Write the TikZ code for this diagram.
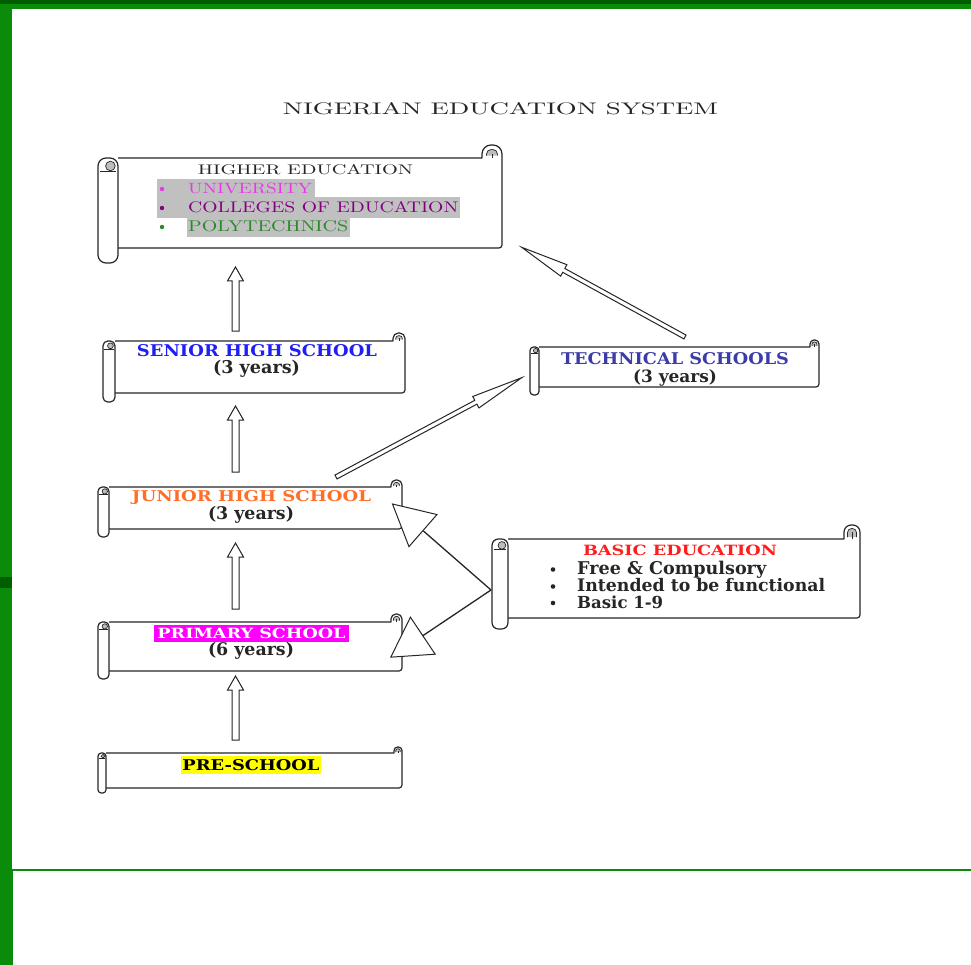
\documentclass[tikz,border=0pt]{standalone}
\usepackage{fontspec}
\usepackage{graphicx}
\usetikzlibrary{calc,arrows.meta,fit}
\newfontfamily\bfont{DejaVu Serif}
\newcommand\bt{\bfont\bfseries}
\newcommand\tw{\addfontfeatures{FakeBold=1.2}}
\definecolor{ink}{HTML}{262626}
\definecolor{hlgray}{HTML}{C0C0C0}
\definecolor{unic}{HTML}{EE33EE}
\definecolor{collc}{HTML}{800080}
\definecolor{polyc}{HTML}{2A8A2A}
\definecolor{sblue}{HTML}{1E1EF5}
\definecolor{tblue}{HTML}{3C3CA8}
\definecolor{jorange}{HTML}{FF6E28}
\definecolor{pmag}{HTML}{FF00FF}
\definecolor{bred}{HTML}{FF1E1E}
\definecolor{hlyellow}{HTML}{FFFF00}
\definecolor{fgreen}{HTML}{0A8C0A}
\definecolor{fdark}{HTML}{005E00}
\definecolor{curlgray}{HTML}{BDBDBD}
\tikzset{
  scr/.style={draw=ink, line width=1.2pt, line join=round},
  thinscr/.style={draw=ink, line width=0.7pt},
  arr/.style={draw=ink, fill=white, line width=1pt, line join=miter},
  txt/.style={inner sep=0pt, anchor=center},
  conn/.style={draw=ink, line width=1.3pt},
}
% #1 name, #2 x1, #3 y1, #4 x2, #5 y2, #6 roll width, #7 roll bottom, #8 curl top
\newcommand\scroll[8]{%
  \node[fit={(#2,#3)(#4,#5)}, inner sep=0pt] (#1) {};
  \draw[scr] (#2+#6,#3) -- (#4-#6,#3) [rounded corners=#6*0.45pt] -- (#4-#6,#8) -- (#4,#8) [rounded corners=3pt] -- (#4,#5) -- (#2+#6,#5);
  \filldraw[thinscr, fill=curlgray, rounded corners=#6*0.25pt] (#4-#6*0.78,#3-#6*0.12) -- (#4-#6*0.78,#8+#6*0.22) -- (#4-#6*0.22,#8+#6*0.22) -- (#4-#6*0.22,#3-#6*0.12);
  \draw[thinscr] (#4-#6*0.5,#8+#6*0.45) -- (#4-#6*0.5,#3);
  \draw[scr, fill=white, rounded corners=#6*0.4pt] (#2,#3) rectangle (#2+#6,#7);
  \filldraw[thinscr, fill=curlgray] (#2+#6*0.62,#3+#6*0.4) circle[radius=#6*0.24pt];
  \draw[thinscr] (#2+#6*0.1,#3+#6*0.66) -- (#2+#6*0.88,#3+#6*0.66);
}
% #1 tail, #2 tip, #3 shaft half width, #4 head half width, #5 head length
\newcommand\harrow[5]{%
  \coordinate (hb) at ($(#2)!#5pt!(#1)$);
  \draw[arr] ($(#1)!#3pt!90:(#2)$) -- ($(hb)!#3pt!90:(#2)$) -- ($(hb)!#4pt!90:(#2)$) -- (#2)
    -- ($(hb)!#4pt!-90:(#2)$) -- ($(hb)!#3pt!-90:(#2)$) -- ($(#1)!#3pt!-90:(#2)$) -- cycle;
}
\begin{document}
\begin{tikzpicture}[x=1pt, y=-1pt]
\useasboundingbox (0,0) rectangle (971,965);
\fill[white] (0,0) rectangle (971,965);
% frame
\fill[fgreen] (0,0) rectangle (12,869);
\fill[fgreen] (0,869) rectangle (13,965);
\fill[fgreen] (0,4) rectangle (971,9);
\fill[fdark] (0,0) rectangle (971,4);
\fill[fdark] (0,577) rectangle (12,588);
\fill[fgreen] (12,868.5) rectangle (971,870.5);

% title
\node[txt, text=ink] (title) at (500.5,109) {\resizebox{435pt}{12pt}{\tw NIGERIAN EDUCATION SYSTEM}};

% scrolls
\scroll{higher}{98}{158}{502}{248}{20}{263}{145}
\scroll{senior}{103}{341}{405}{393}{12}{402}{333}
\scroll{tech}{530}{347}{819}{387}{9}{395}{340}
\scroll{junior}{98}{487}{402}{529}{11}{537}{480}
\scroll{primary}{98}{622}{402}{671}{11}{679}{614}
\scroll{basic}{492}{539}{860}{618}{16}{629}{525}
\scroll{pre}{98}{753}{402}{788}{8}{793}{747}

% higher education contents
\node[txt, text=ink] (het) at (305.5,170) {\resizebox{215pt}{10pt}{\tw HIGHER EDUCATION}};
\fill[hlgray] (157,179.3) rectangle (315,197.3);
\fill[hlgray] (157,197.3) rectangle (460,218.3);
\fill[hlgray] (187,218.3) rectangle (350,236.7);
\node[txt, anchor=west, text=unic] (uni) at (188,188.7) {\resizebox{124pt}{10.5pt}{\tw UNIVERSITY}};
\node[txt, anchor=west, text=collc] (coll) at (188,207.5) {\resizebox{270pt}{11pt}{\tw COLLEGES OF EDUCATION}};
\node[txt, anchor=west, text=polyc] (poly) at (188,226.5) {\resizebox{160pt}{11pt}{\tw POLYTECHNICS}};
\fill[unic] (162,189) circle[radius=2.2pt];
\fill[collc] (162,208) circle[radius=2.2pt];
\fill[polyc] (162,227) circle[radius=2.2pt];

% senior
\node[txt, text=sblue] (sht) at (257,351) {\resizebox{240pt}{12pt}{\bt SENIOR HIGH SCHOOL}};
\node[txt, text=ink] (shy) at (256.5,368.5) {\resizebox{87pt}{!}{\bt (3 years)}};
% technical
\node[txt, text=tblue] (tst) at (675,359) {\resizebox{228pt}{12pt}{\bt TECHNICAL SCHOOLS}};
\node[txt, text=ink] (tsy) at (675,377.5) {\resizebox{84pt}{!}{\bt (3 years)}};
% junior
\node[txt, text=jorange] (jht) at (251.5,498) {\resizebox{239pt}{11pt}{\bt JUNIOR HIGH SCHOOL}};
\node[txt, text=ink] (jhy) at (251,515) {\resizebox{86pt}{!}{\bt (3 years)}};
% primary
\fill[pmag] (154,625) rectangle (349,642);
\node[txt, text=white] (pst) at (251.5,633.5) {\resizebox{188pt}{10.5pt}{\bt PRIMARY SCHOOL}};
\node[txt, text=ink] (psy) at (251,651) {\resizebox{86pt}{!}{\bt (6 years)}};
% basic
\node[txt, text=bred] (bet) at (680,550) {\resizebox{194pt}{10.5pt}{\bt BASIC EDUCATION}};
\node[txt, anchor=base west, text=ink] (b1) at (577,574.5) {\resizebox{189pt}{!}{\bt Free \& Compulsory}};
\node[txt, anchor=base west, text=ink] (b2) at (577,591.5) {\resizebox{248pt}{!}{\bt Intended to be functional}};
\node[txt, anchor=base west, text=ink] (b3) at (577,608) {\resizebox{86pt}{!}{\bt Basic 1-9}};
\fill[ink] (553,569.5) circle[radius=2.3pt];
\fill[ink] (553,586.5) circle[radius=2.3pt];
\fill[ink] (553,603) circle[radius=2.3pt];
% pre-school
\fill[hlyellow] (181,756) rectangle (321,774);
\node[txt, text=black] (pret) at (251,765.5) {\resizebox{137pt}{11pt}{\bt PRE-SCHOOL}};

% vertical block arrows
\coordinate (v1t) at (235.5,331); \coordinate (v1h) at (235.5,267);
\coordinate (v2t) at (235.5,472); \coordinate (v2h) at (235.5,406);
\coordinate (v3t) at (235.5,609); \coordinate (v3h) at (235.5,543);
\coordinate (v4t) at (235.5,740); \coordinate (v4h) at (235.5,676);
\harrow{v1t}{v1h}{3.5}{8}{14}
\harrow{v2t}{v2h}{3.5}{8}{14}
\harrow{v3t}{v3h}{3.5}{8}{14}
\harrow{v4t}{v4h}{3.5}{8}{14}

% diagonal arrows
\coordinate (d1t) at (336,477); \coordinate (d1h) at (521.7,377.7);
\coordinate (d2t) at (685,337); \coordinate (d2h) at (521.7,247.3);
\harrow{d1t}{d1h}{2.2}{6.5}{52}
\harrow{d2t}{d2h}{2.2}{6.5}{48}

% basic education connectors
\coordinate (bj) at (491,590);
\coordinate (jt1) at (391.7,503.3);
\coordinate (jt2) at (390,657.7);
\draw[conn, -{Triangle[length=42pt, width=44pt, fill=white, line width=1pt]}] (bj) -- (jt1);
\draw[conn, -{Triangle[length=40pt, width=46pt, fill=white, line width=1pt]}] (bj) -- (jt2);
\end{tikzpicture}
\end{document}
